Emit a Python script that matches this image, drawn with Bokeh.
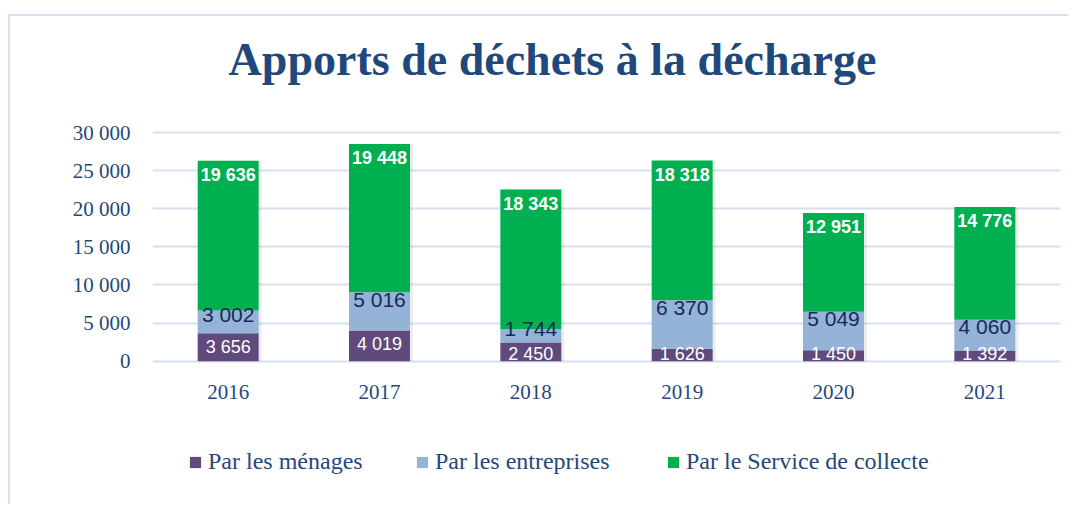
from bokeh.plotting import figure
from bokeh.models import FactorRange, Range1d, FixedTicker, Legend, LegendItem, ColumnDataSource, Label
from bokeh.transform import dodge
from bokeh.core.properties import value
from bokeh.embed import file_html
from bokeh.resources import INLINE

# ---- data ----
years = ["2016", "2017", "2018", "2019", "2020", "2021"]
menages = [3656, 4019, 2450, 1626, 1450, 1392]
entreprises = [3002, 5016, 1744, 6370, 5049, 4060]
service = [19636, 19448, 18343, 18318, 12951, 14776]
series_names = ["Par les ménages", "Par les entreprises", "Par le Service de collecte"]
yticks = [0, 5000, 10000, 15000, 20000, 25000, 30000]
ytick_labels = ["0", "5 000", "10 000", "15 000", "20 000", "25 000", "30 000"]
title_text = "Apports de déchets à la décharge"

colors = ["#604A7B", "#95B3D7", "#00B050"]
navy = "#1F497D"
grid_col = "#D6E0F0"

# ---- layout (pixels of the page; canvas origin at page (10, 16)) ----
W, H = 1060, 490
ML, MR, MT, MB = 142, 10, 20, 10
OX, OY = 10, 16
frame_top_px, frame_bot_px = OY + MT, OY + H - MB
zero_px, top_px = 360.7, 132.0           # page y of value 0 and 30000
ppu = (zero_px - top_px) / 30000.0       # pixels per data unit
y1 = (zero_px - frame_top_px) / ppu
y0 = -(frame_bot_px - zero_px) / ppu
BASE_FIX = 0.37                          # baseline correction (fraction of font size)


def y_at(py, fs=0):
    return (zero_px - (py - BASE_FIX * fs)) / ppu


def fmt(v):
    return f"{v:,}".replace(",", " ")


totals = [a + b + c for a, b, c in zip(menages, entreprises, service)]
e_top = [a + b for a, b in zip(menages, entreprises)]
src = ColumnDataSource(dict(year=years, m=menages, e=entreprises, s=service, t=totals))

p = figure(x_range=FactorRange(*years, range_padding=0), y_range=Range1d(y0, y1),
           width=W, height=H, output_backend="svg", toolbar_location=None,
           min_border_left=ML, min_border_right=MR, min_border_top=MT, min_border_bottom=MB,
           background_fill_color="white", border_fill_color="white")
p.title.visible = False
p.outline_line_color = None
p.styles = {"border-left": "2px solid #D6E0F0", "border-top": "2px solid #D6E0F0",
            "position": "relative", "top": "14px", "left": "8px"}

cat_w = (W - ML - MR) / len(years)

# soft shadow behind the bars
p.vbar(x=dodge("year", 3 / cat_w, range=p.x_range), top="t", bottom=0, width=0.403,
       source=src, fill_color="#000000", fill_alpha=0.07, line_color=None)

rs = p.vbar_stack(["m", "e", "s"], x="year", width=0.403, source=src,
                  color=colors, line_color=None)

# axes
p.xaxis.visible = False
p.xgrid.grid_line_color = None
p.ygrid.grid_line_color = grid_col
p.ygrid.grid_line_width = 2
p.ygrid.level = "underlay"
yax = p.yaxis[0]
yax.ticker = FixedTicker(ticks=yticks)
yax.major_label_overrides = {t: l for t, l in zip(yticks, ytick_labels)}
yax.axis_line_color = None
yax.major_tick_line_color = None
yax.minor_tick_line_color = None
yax.major_tick_in = 0
yax.major_tick_out = 0
yax.major_label_text_font = "Liberation Serif"
yax.major_label_text_font_size = "21px"
yax.major_label_text_color = navy
yax.major_label_standoff = 22

# category labels
p.text(x=years, y=[y_at(399, 21)] * len(years), text=years, text_align="center",
       text_baseline="alphabetic", text_font=value("Liberation Serif"),
       text_font_size="21px", text_color=navy)

# data labels (baseline positions in pixels below each segment top)
fix18, fix21 = BASE_FIX * 18 / ppu, BASE_FIX * 21 / ppu
m_y = [max(t - 20 / ppu, 1.0 / ppu) + fix18 for t in menages]
e_y = [t - min(15 / ppu, 0.5 * seg) + fix21 for t, seg in zip(e_top, entreprises)]
s_y = [t - 21 / ppu + fix18 for t in totals]

p.text(x=years, y=m_y, text=[fmt(v) for v in menages], text_align="center",
       text_baseline="alphabetic", text_font=value("Liberation Sans"),
       text_font_size="18px", text_color="white")
p.text(x=years, y=e_y, text=[fmt(v) for v in entreprises], text_align="center",
       text_baseline="alphabetic", text_font=value("Liberation Sans"),
       text_font_size="21px", text_color="#17295A")
p.text(x=years, y=s_y, text=[fmt(v) for v in service], text_align="center",
       text_baseline="alphabetic", text_font=value("Liberation Sans"),
       text_font_size="18px", text_font_style="bold", text_color="white")

# title
p.add_layout(Label(x=(552 - (OX + ML)) / cat_w, y=y_at(76, 46), text=title_text,
                   text_align="center", text_baseline="alphabetic",
                   text_font="Liberation Serif", text_font_style="bold",
                   text_font_size="46px", text_color=navy))

# legends, one per item
leg_x = [188, 415, 666]
for r, name, lx in zip(rs, series_names, leg_x):
    lg = Legend(items=[LegendItem(label=name, renderers=[r])],
                location=(lx - (OX + ML), 21), orientation="horizontal",
                padding=0, margin=0, spacing=0,
                glyph_width=14, glyph_height=14, label_standoff=6, label_height=14,
                border_line_color=None, background_fill_alpha=0,
                label_text_font="Liberation Serif", label_text_font_size="24px",
                label_text_color=navy)
    p.add_layout(lg, "center")

open("out.html", "w").write(file_html(p, INLINE))
